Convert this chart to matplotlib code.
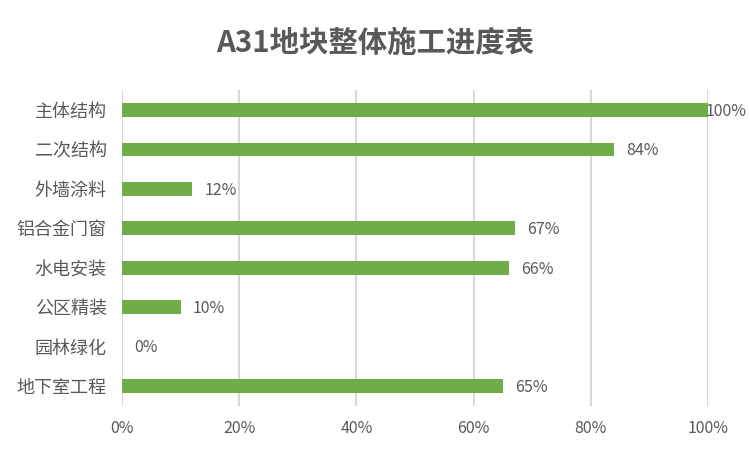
import matplotlib
matplotlib.use("Agg")
import matplotlib.pyplot as plt
from matplotlib.ticker import FuncFormatter

plt.rcParams['font.family'] = ['Noto Sans CJK SC', 'DejaVu Sans']

tasks = ["主体结构", "二次结构", "外墙涂料", "铝合金门窗", "水电安装", "公区精装", "园林绿化", "地下室工程"]
progress = [100, 84, 12, 67, 66, 10, 0, 65]
x_ticks = [0, 20, 40, 60, 80, 100]

text_grey = "#595959"
bar_green = "#70AD47"
grid_grey = "#D9D9D9"

fig = plt.figure(figsize=(7.5, 4.49), dpi=100)
ax = fig.add_axes([0.1627, 0.0964, 0.7813, 0.7025])

pos = list(range(len(tasks)))
ax.barh(pos, progress, height=0.35, color=bar_green, zorder=3)
ax.set_ylim(len(tasks) - 0.5, -0.5)
ax.set_xlim(0, 100)
ax.set_yticks(pos)
ax.set_yticklabels(tasks, fontsize=13, color=text_grey)
ax.set_xticks(x_ticks)
ax.xaxis.set_major_formatter(FuncFormatter(lambda v, p: f"{v:.0f}%"))
ax.tick_params(axis='x', length=0, pad=10, labelsize=11.5, labelcolor=text_grey)
ax.tick_params(axis='y', length=0, pad=11)

ax.grid(axis='x', color=grid_grey, linewidth=1.5, zorder=0)
ax.grid(axis='y', visible=False)
for s in ax.spines.values():
    s.set_visible(False)

for p, v in zip(pos, progress):
    off = -2 if v >= 100 else 9
    ax.annotate(f"{v}%", xy=(v, p), xytext=(off, -1), textcoords='offset points',
                va='center', ha='left', fontsize=11.5, color=text_grey, zorder=4)

fig.text(0.5, 0.904, "A31地块整体施工进度表", ha='center', va='center',
         fontsize=21.2, fontweight='bold', color=text_grey)

fig.savefig("out.png", dpi=100)
